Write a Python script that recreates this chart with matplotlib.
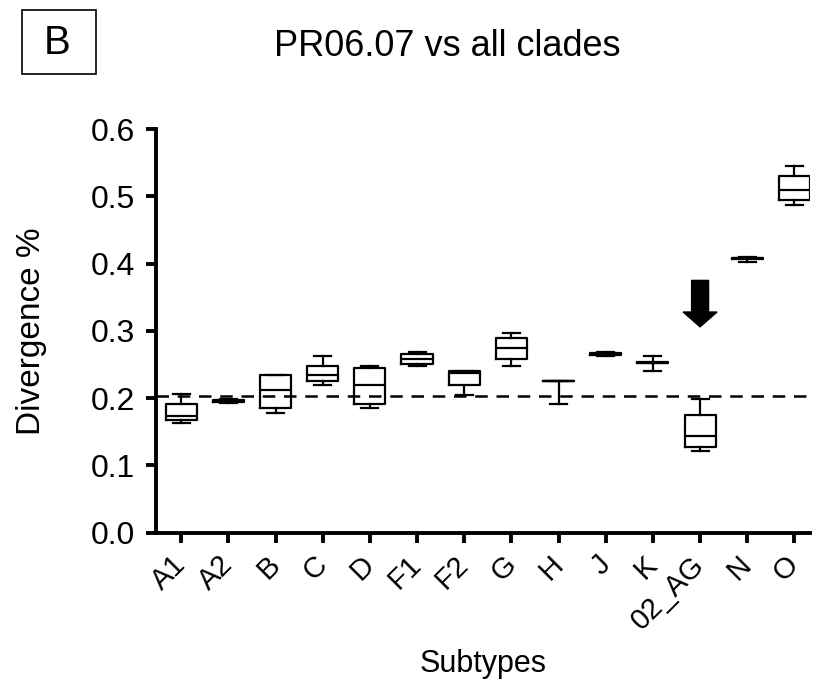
import matplotlib
matplotlib.use("Agg")
import matplotlib.pyplot as plt
from matplotlib.patches import FancyArrow, Rectangle

plt.rcParams['font.family'] = ['Liberation Sans', 'DejaVu Sans']

subtypes = ["A1", "A2", "B", "C", "D", "F1", "F2", "G", "H", "J", "K", "02_AG", "N", "O"]
whisk_lo = [0.163, 0.193, 0.178, 0.219, 0.185, 0.248, 0.204, 0.248, 0.192, 0.263, 0.241, 0.121, 0.403, 0.487]
q1       = [0.167, 0.195, 0.185, 0.226, 0.192, 0.251, 0.219, 0.258, 0.226, 0.264, 0.252, 0.128, 0.407, 0.494]
median   = [0.173, 0.196, 0.212, 0.234, 0.219, 0.258, 0.238, 0.275, 0.226, 0.265, 0.252, 0.144, 0.408, 0.509]
q3       = [0.192, 0.197, 0.234, 0.248, 0.245, 0.266, 0.240, 0.290, 0.226, 0.267, 0.253, 0.175, 0.409, 0.530]
whisk_hi = [0.206, 0.199, 0.235, 0.263, 0.248, 0.268, 0.241, 0.297, 0.226, 0.268, 0.262, 0.199, 0.410, 0.545]
threshold = 0.203
arrow_top, arrow_tip = 0.375, 0.306
arrow_target = "02_AG"
yticks = [0.0, 0.1, 0.2, 0.3, 0.4, 0.5, 0.6]

fig = plt.figure(figsize=(8.23, 6.87), dpi=100)
ax = fig.add_axes([0.1892, 0.2246, 0.795, 0.5876])

stats = []
for i, name in enumerate(subtypes):
    stats.append(dict(label=name, whislo=whisk_lo[i], q1=q1[i], med=median[i],
                      q3=q3[i], whishi=whisk_hi[i], fliers=[]))

lw = 1.6
ax.bxp(stats, positions=range(len(subtypes)), widths=0.66, showfliers=False,
       boxprops=dict(color='black', linewidth=lw),
       medianprops=dict(color='black', linewidth=lw),
       whiskerprops=dict(color='black', linewidth=lw),
       capprops=dict(color='black', linewidth=lw),
       capwidths=0.36)

ax.axhline(threshold, color='black', linewidth=1.8, dashes=(5, 3.5))

xa = subtypes.index(arrow_target)
ax.add_patch(FancyArrow(xa, arrow_top, 0, arrow_tip - arrow_top, width=0.36,
                        head_width=0.72, head_length=0.022,
                        length_includes_head=True, color='black', zorder=5))

ax.set_xlim(-0.54, 13.33)
ax.set_ylim(0, 0.6)
ax.set_yticks(yticks)
ax.set_yticklabels([f"{v:.1f}" for v in yticks], fontsize=23)
ax.set_xticks(range(len(subtypes)))
ax.set_xticklabels(subtypes, rotation=45, ha='right', va='center',
                   rotation_mode='anchor', fontsize=21)

for s in ['top', 'right']:
    ax.spines[s].set_visible(False)
for s in ['left', 'bottom']:
    ax.spines[s].set_linewidth(2.8)
ax.tick_params(axis='both', width=2.8, length=7, direction='out', color='black')
ax.tick_params(axis='y', pad=8)
ax.tick_params(axis='x', pad=13)

ax.set_ylabel("Divergence %", fontsize=24, va='center')
ax.yaxis.set_label_coords(-0.19, 0.5)
ax.set_xlabel("Subtypes", fontsize=22, va='center')
ax.xaxis.set_label_coords(0.5, -0.325)

fig.text(0.543, 0.932, "PR06.07 vs all clades", fontsize=26, ha='center', va='center')
fig.text(0.0699, 0.937, "B", fontsize=29, ha='center', va='center')
fig.add_artist(Rectangle((0.0264, 0.893), 0.0902, 0.092, transform=fig.transFigure,
                         facecolor='none', edgecolor='black', linewidth=1.2))

fig.savefig("out.png", dpi=100)
